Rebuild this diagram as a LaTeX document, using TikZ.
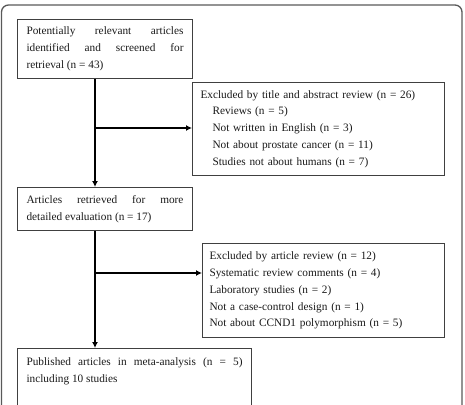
\documentclass[tikz,border=0pt]{standalone}
\usepackage{fontspec}
\setmainfont{Liberation Serif}
\usetikzlibrary{arrows.meta}
\hyphenpenalty=10000
\exhyphenpenalty=10000
\tolerance=10000
\hbadness=10000
\begin{document}
\begin{tikzpicture}[x=1pt,y=-1pt,
  box/.style={draw=black!75, line width=1pt, anchor=north west,
    font=\fontsize{11.3}{16.8}\selectfont, text=black!90, inner ysep=4pt},
  jbox/.style={box, align=justify, inner xsep=9pt},
  lbox/.style={box, align=left},
  arr/.style={draw=black, line width=2pt, -{Latex[length=6pt,width=6pt]}},
  frame/.style={draw=black!65, line width=1.3pt, rounded corners=7pt}]
\useasboundingbox (0,0) rectangle (465,404);
\begin{scope}
\clip (0,0) rectangle (465,404);
\draw[frame] (1.5,430) -- (1.5,5) -- (462,5) -- (462,430);

\node[jbox, text width=157pt, minimum height=59pt] (b1) at (17,19)
  {Potentially relevant articles\linebreak identified and screened for\linebreak retrieval (n~=~43)};
\node[lbox, inner xsep=8pt, text width=236pt, minimum height=93pt] (e1) at (192,82)
  {Excluded by title and abstract review (n = 26)\\
   \hspace*{12pt}Reviews (n = 5)\\
   \hspace*{12pt}Not written in English (n = 3)\\
   \hspace*{12pt}Not about prostate cancer (n = 11)\\
   \hspace*{12pt}Studies not about humans (n = 7)};
\node[jbox, text width=157pt, minimum height=43pt] (b2) at (17,187)
  {Articles retrieved for more\linebreak detailed evaluation (n~=~17)};
\node[lbox, inner xsep=7pt, text width=228pt, minimum height=94pt] (e2) at (202,243)
  {Excluded by article review (n = 12)\\
   Systematic review comments (n = 4)\\
   Laboratory studies (n = 2)\\
   Not a case-control design (n = 1)\\
   Not about CCND1 polymorphism (n = 5)};
\node[jbox, text width=216pt, inner ysep=9pt, text depth=60pt] (b3) at (17,348)
  {Published articles in meta-analysis (n = 5)\linebreak including 10 studies};

\coordinate (j1) at (95,128);
\coordinate (j2) at (95,273);
\draw[arr] (b1.south -| j1) -- (b2.north -| j1);
\draw[arr] (j1) -- (j1 -| e1.west);
\draw[arr] (b2.south -| j2) -- (b3.north -| j2);
\draw[arr] (j2) -- (j2 -| e2.west);
\end{scope}
\end{tikzpicture}
\end{document}
